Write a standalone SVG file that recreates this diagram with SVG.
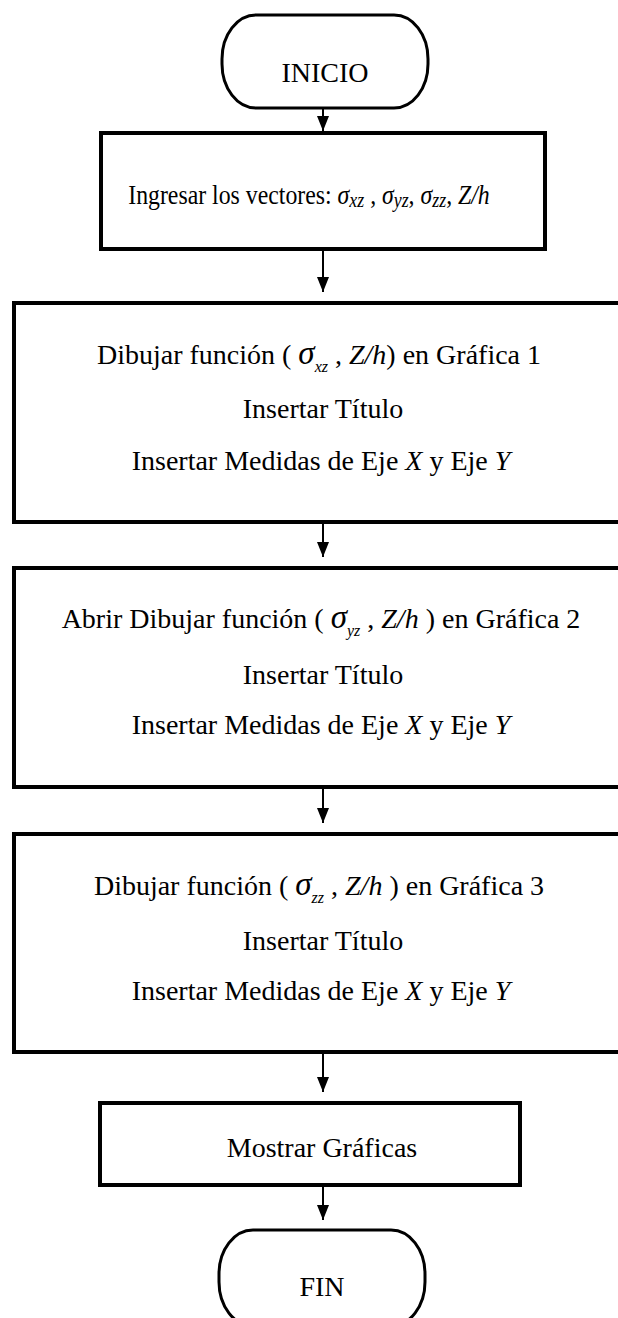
<svg xmlns="http://www.w3.org/2000/svg" width="618" height="1318" viewBox="0 0 618 1318">
  <defs>
    <!-- filled triangular head, pointing along the line direction -->
    <marker id="arrowhead" viewBox="0 0 15 12" refX="15" refY="6" markerWidth="15" markerHeight="12" markerUnits="userSpaceOnUse" orient="auto">
      <path d="M0,0 L15,6 L0,12 Z" fill="#000"/>
    </marker>
  </defs>
  <style>
    text { font-family: "Liberation Serif", "Times New Roman", serif; font-size: 28px; fill: #000; text-anchor: middle; }
    .it { font-style: italic; }
    .sig { font-style: italic; font-size: 33px; }
    .sub { font-style: italic; font-size: 16px; }
    .term { fill: #fff; stroke: #000; stroke-width: 3; }
    .box { fill: #fff; stroke: #000; stroke-width: 4; }
    .conn line { stroke: #000; stroke-width: 2; }
  </style>
  <rect width="618" height="1318" fill="#fff"/>

  <!-- start terminator -->
  <g id="inicio">
    <rect class="term" x="222" y="15" width="206" height="93" rx="34" ry="44"/>
    <text x="325" y="82">INICIO</text>
  </g>

  <!-- input vectors (narrow-set line) -->
  <g id="ingresar">
    <rect class="box" x="101" y="133" width="444" height="116"/>
    <text font-size="27" transform="translate(309 204) scale(0.85 1)" x="0" y="0">Ingresar los vectores: <tspan class="it">σ</tspan><tspan class="it" font-size="21" dy="3">xz</tspan><tspan dy="-3"> , </tspan><tspan class="it">σ</tspan><tspan class="it" font-size="21" dy="3">yz</tspan><tspan dy="-3">, </tspan><tspan class="it">σ</tspan><tspan class="it" font-size="21" dy="3">zz</tspan><tspan dy="-3">, </tspan><tspan class="it">Z/h</tspan></text>
  </g>

  <!-- plot 1 -->
  <g id="grafica1">
    <rect class="box" x="14" y="303" width="620" height="219"/>
    <text x="319" y="364">Dibujar función ( <tspan class="sig">σ</tspan><tspan class="sub" dy="8">xz</tspan><tspan dy="-8">   , </tspan><tspan class="it">Z/h</tspan>) en Gráfica 1</text>
    <text x="323" y="418">Insertar Título</text>
    <text x="321" y="470">Insertar Medidas de Eje <tspan class="it">X</tspan> y Eje <tspan class="it">Y</tspan></text>
  </g>

  <!-- plot 2 -->
  <g id="grafica2">
    <rect class="box" x="14" y="568" width="620" height="219"/>
    <text x="321" y="628">Abrir Dibujar función ( <tspan class="sig">σ</tspan><tspan class="sub" dy="8">yz</tspan><tspan dy="-8"> , </tspan><tspan class="it">Z/h</tspan> ) en Gráfica 2</text>
    <text x="323" y="684">Insertar Título</text>
    <text x="321" y="734">Insertar Medidas de Eje <tspan class="it">X</tspan> y Eje <tspan class="it">Y</tspan></text>
  </g>

  <!-- plot 3 -->
  <g id="grafica3">
    <rect class="box" x="14" y="834" width="620" height="218"/>
    <text x="319" y="895">Dibujar función ( <tspan class="sig">σ</tspan><tspan class="sub" dy="8">zz</tspan><tspan dy="-8"> , </tspan><tspan class="it">Z/h</tspan> ) en Gráfica 3</text>
    <text x="323" y="950">Insertar Título</text>
    <text x="321" y="1000">Insertar Medidas de Eje <tspan class="it">X</tspan> y Eje <tspan class="it">Y</tspan></text>
  </g>

  <!-- show plots -->
  <g id="mostrar">
    <rect class="box" x="100" y="1103" width="420" height="82"/>
    <text x="322" y="1157">Mostrar Gráficas</text>
  </g>

  <!-- end terminator -->
  <g id="fin">
    <rect class="term" x="219" y="1230" width="206" height="96" rx="34" ry="44"/>
    <text x="322" y="1296">FIN</text>
  </g>

  <!-- connectors -->
  <g id="connectors" class="conn">
    <line x1="323" y1="109" x2="323" y2="131" marker-end="url(#arrowhead)"/>
    <line x1="323" y1="251" x2="323" y2="292" marker-end="url(#arrowhead)"/>
    <line x1="323" y1="524" x2="323" y2="557" marker-end="url(#arrowhead)"/>
    <line x1="323" y1="789" x2="323" y2="823" marker-end="url(#arrowhead)"/>
    <line x1="323" y1="1054" x2="323" y2="1092" marker-end="url(#arrowhead)"/>
    <line x1="323" y1="1187" x2="323" y2="1220" marker-end="url(#arrowhead)"/>
  </g>
</svg>
